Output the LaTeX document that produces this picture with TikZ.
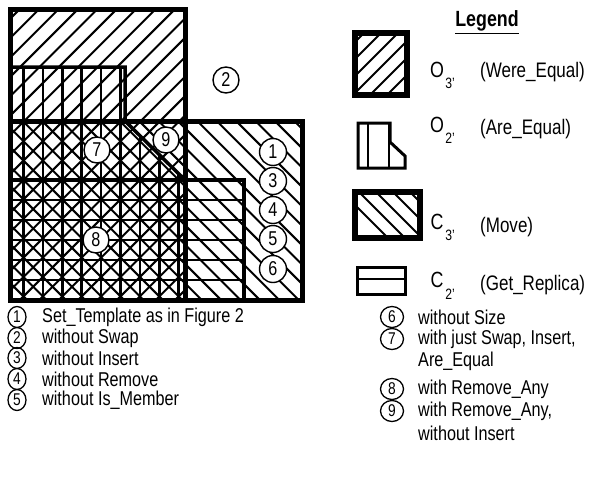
\documentclass[tikz,border=0pt]{standalone}
\usepackage{fontspec}
\setmainfont{Liberation Sans}[FakeStretch=0.81]
\usetikzlibrary{positioning,shapes.geometric}

\tikzset{
  bigborder/.style={line width=5pt},
  midborder/.style={line width=3.5pt},
  legborder/.style={line width=6pt},
  hatchline/.style={line width=2pt},
  gridline/.style={line width=2.6pt},
  setnum/.style={circle, draw, line width=1.4pt, fill=white,
                 minimum size=26pt, inner sep=0pt,
                 font=\fontsize{20}{20}\selectfont},
  listnum/.style={ellipse, draw, line width=1.3pt, minimum width=18pt,
                  minimum height=21pt, inner sep=0pt,
                  font=\fontsize{17}{17}\selectfont},
  listtext/.style={anchor=west, inner sep=0pt, font=\fontsize{20}{20}\selectfont},
  legsym/.style={inner sep=0pt, font=\fontsize{22}{22}\selectfont},
  legsub/.style={inner sep=0pt, font=\fontsize{15}{15}\selectfont},
  legtext/.style={anchor=west, inner sep=0pt, font=\fontsize{21}{21}\selectfont},
}

\begin{document}
\begin{tikzpicture}[x=1pt, y=-1pt]
  \useasboundingbox (0,0) rectangle (589,477);

  % Were_Equal hatching
  \begin{scope}
    \clip (10,9) rectangle (185,300);
    \foreach \k in {0,...,26} \draw[hatchline] (9.5+19.4*\k,0) -- ++(-400,400);
  \end{scope}

  % Move hatching
  \begin{scope}
    \clip (10,121) rectangle (302,300);
    \foreach \k in {-8,...,19} \draw[hatchline] (-156.5+19.4*\k,0) -- ++(400,400);
  \end{scope}

  % Are_Equal lines
  \begin{scope}
    \clip (10,67) -- (125,67) -- (125,121) -- (185,180) -- (185,300) -- (10,300) -- cycle;
    \foreach \k in {0,...,8} \draw[gridline] (23.5+19.4*\k,60) -- ++(0,250);
  \end{scope}

  % Get_Replica lines
  \begin{scope}
    \clip (10,180) rectangle (244,300);
    \foreach \k in {1,...,5} \draw[gridline] (0,180+20*\k) -- ++(260,0);
  \end{scope}

  % Set borders
  \draw[midborder] (10,67) -- (125,67) -- (125,121) -- (185,180) -- (185,300) -- (10,300) -- cycle;
  \draw[midborder] (10,180) rectangle (244,300);
  \draw[bigborder] (10,9) rectangle (185,300);
  \draw[bigborder] (10,121) rectangle (302,300);

  % Numbered sets
  \node[setnum] (s2) at (226,80)  {2};
  \node[setnum] (s7) at (97,150)  {7};
  \node[setnum] (s9) at (166,140) {9};
  \node[setnum] (s8) at (96,240)  {8};
  \node[setnum, minimum size=27pt] (s1) at (273,152) {1};
  \node[setnum, minimum size=27pt] (s3) at (273,181) {3};
  \node[setnum, minimum size=27pt] (s4) at (273,210) {4};
  \node[setnum, minimum size=27pt] (s5) at (273,239) {5};
  \node[setnum, minimum size=27pt] (s6) at (273,269) {6};

  % Legend
  \node[inner sep=0pt, font=\bfseries\fontsize{22}{22}\selectfont] (legend) at (487,22) {\underline{Legend}};

  \begin{scope}
    \clip (355,33) rectangle (407,95);
    \foreach \k in {0,...,8} \draw[hatchline] (380+17*\k,0) -- ++(-200,200);
  \end{scope}
  \draw[legborder] (355,33) rectangle (407,95);
  \node[legsym] (o3) at (437,70) {O};
  \node[legsub] (o3s) at (450,83) {3'};
  \node[legtext] (o3t) at (480,72) {(Were\_Equal)};

  \draw[line width=3pt] (358,123) -- (390,123) -- (390,142) -- (405,156) -- (405,168) -- (358,168) -- cycle;
  \draw[gridline] (368,123) -- (368,168);
  \draw[gridline] (389,123) -- (389,168);
  \node[legsym] (o2) at (437,125) {O};
  \node[legsub] (o2s) at (450,138) {2'};
  \node[legtext] (o2t) at (480,129) {(Are\_Equal)};

  \begin{scope}
    \clip (355,192) rectangle (420,238);
    \foreach \k in {0,...,8} \draw[hatchline] (150+17*\k,0) -- ++(300,300);
  \end{scope}
  \draw[legborder] (355,192) rectangle (420,238);
  \node[legsym] (c3) at (437,222) {C};
  \node[legsub] (c3s) at (450,235) {3'};
  \node[legtext] (c3t) at (480,227) {(Move)};

  \draw[line width=3pt] (357,267) rectangle (405,294);
  \draw[gridline] (357,279) -- (405,279);
  \node[legsym] (c2) at (437,280) {C};
  \node[legsub] (c2s) at (450,294) {2'};
  \node[legtext] (c2t) at (480,285) {(Get\_Replica)};

  % Key, left column
  \node[listnum] (k1) at (17,317) {1};
  \node[listtext] (t1) at (42,317) {Set\_Template as in Figure 2};
  \node[listnum] (k2) at (17,338) {2};
  \node[listtext] (t2) at (42,338) {without Swap};
  \node[listnum] (k3) at (17,358) {3};
  \node[listtext] (t3) at (42,358) {without Insert};
  \node[listnum] (k4) at (17,379) {4};
  \node[listtext] (t4) at (42,379) {without Remove};
  \node[listnum] (k5) at (17,400) {5};
  \node[listtext] (t5) at (42,400) {without Is\_Member};

  % Key, right column
  \node[listnum, minimum width=23pt] (k6) at (392,317) {6};
  \node[listtext] (t6) at (418,317) {without Size};
  \node[listnum, minimum width=23pt] (k7) at (392,339) {7};
  \node[listtext] (t7) at (418,339) {with just Swap, Insert,};
  \node[listtext] (t7b) at (418,361) {Are\_Equal};
  \node[listnum, minimum width=23pt] (k8) at (392,389) {8};
  \node[listtext] (t8) at (418,389) {with Remove\_Any};
  \node[listnum, minimum width=23pt] (k9) at (392,411) {9};
  \node[listtext] (t9) at (418,411) {with Remove\_Any,};
  \node[listtext] (t9b) at (418,433) {without Insert};
\end{tikzpicture}
\end{document}
